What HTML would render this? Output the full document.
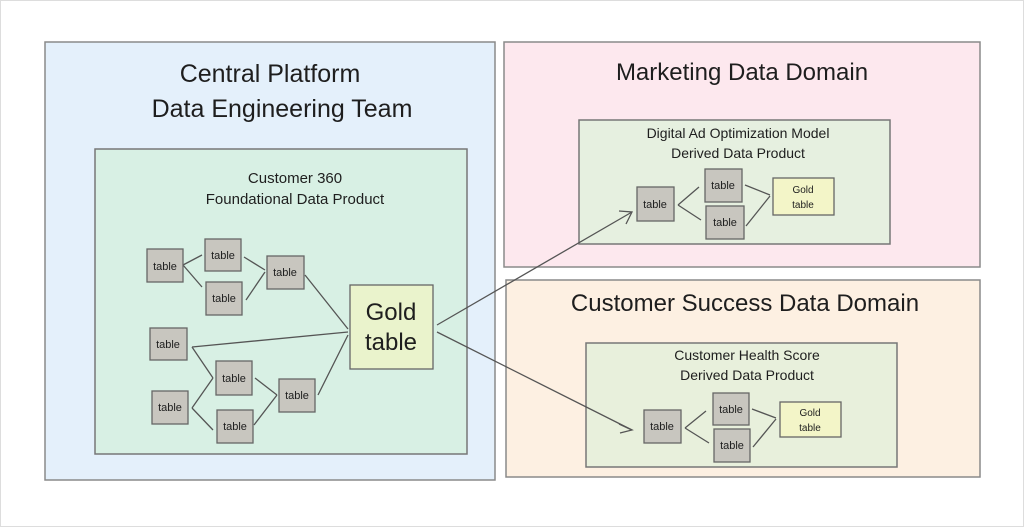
<!DOCTYPE html>
<html><head><meta charset="utf-8"><style>
html,body{margin:0;padding:0;background:#fff;}
svg{display:block;}
text{font-family:"Liberation Sans",sans-serif;fill:#1e1e1e;}
</style></head><body>
<svg width="1024" height="527" viewBox="0 0 1024 527" xmlns="http://www.w3.org/2000/svg">
<defs>
<pattern id="h" width="6" height="6" patternUnits="userSpaceOnUse" patternTransform="rotate(45)">
<line x1="0" y1="0" x2="0" y2="6" stroke="#888" stroke-width="1.2"/></pattern>
</defs>
<rect x="0.5" y="0.5" width="1023" height="526" fill="#fff" stroke="#ddd"/>
<!-- big boxes -->
<rect x="45" y="42" width="450" height="438" fill="#e4f0fb" stroke="#8a8a8a" stroke-width="1.5"/>
<rect x="504" y="42" width="476" height="225" fill="#fde8ee" stroke="#8a8a8a" stroke-width="1.5"/>
<rect x="506" y="280" width="474" height="197" fill="#fdf0e2" stroke="#8a8a8a" stroke-width="1.5"/>
<rect x="95" y="149" width="372" height="305" fill="#d8f0e4" stroke="#777" stroke-width="1.5"/>
<rect x="579" y="120" width="311" height="124" fill="#e6f0e0" stroke="#777" stroke-width="1.5"/>
<rect x="586" y="343" width="311" height="124" fill="#e8f0dc" stroke="#777" stroke-width="1.5"/>

<text x="270" y="82" font-size="25" text-anchor="middle">Central Platform</text>
<text x="282" y="117" font-size="25" text-anchor="middle">Data Engineering Team</text>
<text x="742" y="80" font-size="24" text-anchor="middle">Marketing Data Domain</text>
<text x="745" y="311" font-size="24" text-anchor="middle">Customer Success Data Domain</text>
<text x="295" y="183" font-size="15" text-anchor="middle">Customer 360</text>
<text x="295" y="204" font-size="15" text-anchor="middle">Foundational Data Product</text>
<text x="738" y="138" font-size="14" text-anchor="middle">Digital Ad Optimization Model</text>
<text x="738" y="158" font-size="14" text-anchor="middle">Derived Data Product</text>
<text x="747" y="360" font-size="14" text-anchor="middle">Customer Health Score</text>
<text x="747" y="380" font-size="14" text-anchor="middle">Derived Data Product</text>

<g stroke="#555" stroke-width="1.3" fill="none">
<path d="M183 265L202 255M183 265L202 287M244 257L265 270M246 300L265 272M305 275L348 329M192 347L348 332M192 347L213 378M192 408L213 378M192 408L213 430M255 378L277 395M254 425L277 395M318 395L348 335"/>
<path d="M437 325L632 212M437 332L632 430"/>
<path d="M619 211L632 212L626 224M619 424L632 430L620 433"/>
<path d="M678 205L699 187M678 205L701 220M745 185L770 195M746 226L770 196"/>
<path d="M685 428L706 411M685 428L709 443M752 409L776 418M753 447L776 419"/>
</g>

<g stroke="#666" stroke-width="1.3">
<rect x="147" y="249" width="36" height="33" fill="#c8c6bf"/>
<rect x="205" y="239" width="36" height="32" fill="#c8c6bf"/>
<rect x="206" y="282" width="36" height="33" fill="#c8c6bf"/>
<rect x="267" y="256" width="37" height="33" fill="#c8c6bf"/>
<rect x="150" y="328" width="37" height="32" fill="#c8c6bf"/>
<rect x="216" y="361" width="36" height="34" fill="#c8c6bf"/>
<rect x="152" y="391" width="36" height="33" fill="#c8c6bf"/>
<rect x="217" y="410" width="36" height="33" fill="#c8c6bf"/>
<rect x="279" y="379" width="36" height="33" fill="#c8c6bf"/>
<rect x="350" y="285" width="83" height="84" fill="#eaf3cc"/>
<rect x="637" y="187" width="37" height="34" fill="#c8c6bf"/>
<rect x="705" y="169" width="37" height="33" fill="#c8c6bf"/>
<rect x="706" y="206" width="38" height="33" fill="#c8c6bf"/>
<rect x="773" y="178" width="61" height="37" fill="#f3f5c8"/>
<rect x="644" y="410" width="37" height="33" fill="#c8c6bf"/>
<rect x="713" y="393" width="36" height="32" fill="#c8c6bf"/>
<rect x="714" y="429" width="36" height="33" fill="#c8c6bf"/>
<rect x="780" y="402" width="61" height="35" fill="#f3f5c8"/>
</g>
<g font-size="11" text-anchor="middle">
<text x="165" y="270">table</text><text x="223" y="259">table</text><text x="224" y="302">table</text>
<text x="285" y="276">table</text><text x="168" y="348">table</text><text x="234" y="382">table</text>
<text x="170" y="411">table</text><text x="235" y="430">table</text><text x="297" y="399">table</text>
<text x="655" y="208">table</text><text x="723" y="189">table</text><text x="725" y="226">table</text>
<text x="662" y="430">table</text><text x="731" y="413">table</text><text x="732" y="449">table</text>
<text x="803" y="193" font-size="10">Gold</text><text x="803" y="208" font-size="10">table</text>
<text x="810" y="416" font-size="10">Gold</text><text x="810" y="431" font-size="10">table</text>
</g>
<text x="391" y="320" font-size="24" text-anchor="middle">Gold</text>
<text x="391" y="350" font-size="24" text-anchor="middle">table</text>
</svg>
</body></html>
